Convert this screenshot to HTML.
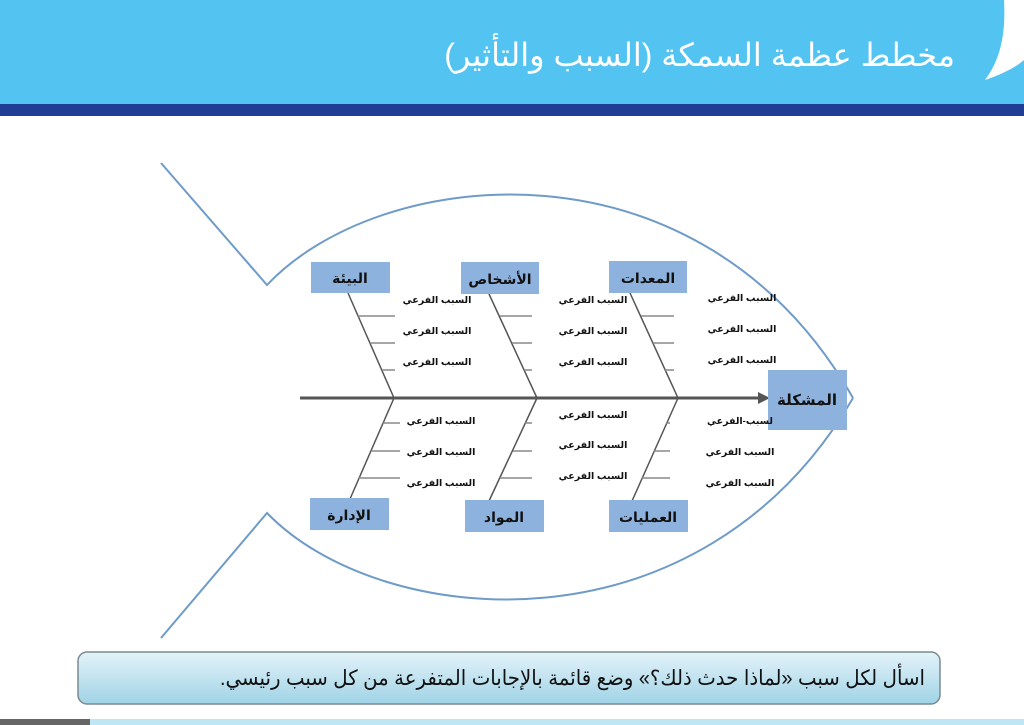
<!DOCTYPE html>
<html><head><meta charset="utf-8"><style>
html,body{margin:0;padding:0;width:1024px;height:725px;overflow:hidden;background:#fff}
svg{display:block}
</style></head><body>
<svg width="1024" height="725" viewBox="0 0 1024 725" xmlns="http://www.w3.org/2000/svg" font-family="'Liberation Sans','DejaVu Sans',sans-serif">
<defs>
<linearGradient id="cap" x1="0" y1="0" x2="0" y2="1">
<stop offset="0" stop-color="#e4f3f9"/><stop offset="1" stop-color="#9fd3e6"/>
</linearGradient>
</defs>
<rect x="0" y="0" width="1024" height="104" fill="#53c4f2"/>
<rect x="0" y="104" width="1024" height="12" fill="#1f3d94"/>
<path d="M1024,0 L1004,0 C1006,35 1000,60 985,80 C1000,75 1015,68 1024,60 Z" fill="#fff"/>
<text x="955" y="66" font-size="32" fill="#fff" text-anchor="end">مخطط عظمة السمكة (السبب والتأثير)</text>

<g fill="none" stroke="#6f9bc8" stroke-width="2">
<path d="M161,163 L267,285 C380,165 700,130 853,398"/>
<path d="M161,638 L267,513 C380,630 700,660 853,398"/>
</g>

<line x1="300" y1="398" x2="760" y2="398" stroke="#555" stroke-width="3"/>
<polygon points="758,392 770,398 758,404" fill="#555"/>

<g stroke="#555" stroke-width="1.5">
<line x1="348" y1="293" x2="394" y2="398"/>
<line x1="489" y1="294" x2="537" y2="398"/>
<line x1="630" y1="293" x2="678" y2="398"/>
<line x1="394" y1="398" x2="350" y2="499"/>
<line x1="537" y1="398" x2="489" y2="501"/>
<line x1="678" y1="398" x2="632" y2="501"/>
</g>
<g stroke="#888" stroke-width="1.5">
<line x1="358" y1="316" x2="395" y2="316"/><line x1="370" y1="343" x2="395" y2="343"/><line x1="382" y1="370" x2="395" y2="370"/>
<line x1="500" y1="316" x2="532" y2="316"/><line x1="512" y1="343" x2="532" y2="343"/><line x1="524" y1="370" x2="532" y2="370"/>
<line x1="641" y1="316" x2="674" y2="316"/><line x1="653" y1="343" x2="674" y2="343"/><line x1="665" y1="370" x2="674" y2="370"/>
<line x1="383" y1="423" x2="400" y2="423"/><line x1="371" y1="451" x2="400" y2="451"/><line x1="359" y1="478" x2="400" y2="478"/>
<line x1="525" y1="423" x2="532" y2="423"/><line x1="513" y1="451" x2="532" y2="451"/><line x1="500" y1="478" x2="532" y2="478"/>
<line x1="666" y1="423" x2="670" y2="423"/><line x1="654" y1="451" x2="670" y2="451"/><line x1="642" y1="478" x2="670" y2="478"/>
</g>

<g fill="#8eb2de">
<rect x="311" y="262" width="79" height="31"/>
<rect x="461" y="262" width="78" height="32"/>
<rect x="609" y="261" width="78" height="32"/>
<rect x="768" y="370" width="79" height="60"/>
<rect x="310" y="498" width="79" height="32"/>
<rect x="465" y="500" width="79" height="32"/>
<rect x="609" y="500" width="79" height="32"/>
</g>
<g font-weight="bold" font-size="14" fill="#111" text-anchor="middle">
<text x="350" y="283">البيئة</text>
<text x="500" y="284">الأشخاص</text>
<text x="648" y="283">المعدات</text>
<text x="807" y="405" font-size="15">المشكلة</text>
<text x="349" y="520">الإدارة</text>
<text x="504" y="522">المواد</text>
<text x="648" y="522">العمليات</text>
</g>
<g font-weight="bold" font-size="9.5" fill="#111" text-anchor="middle">
<text x="437" y="303">السبب الفرعي</text><text x="437" y="334">السبب الفرعي</text><text x="437" y="365">السبب الفرعي</text>
<text x="593" y="303">السبب الفرعي</text><text x="593" y="334">السبب الفرعي</text><text x="593" y="365">السبب الفرعي</text>
<text x="742" y="301">السبب الفرعي</text><text x="742" y="332">السبب الفرعي</text><text x="742" y="363">السبب الفرعي</text>
<text x="441" y="424">السبب الفرعي</text><text x="441" y="455">السبب الفرعي</text><text x="441" y="486">السبب الفرعي</text>
<text x="593" y="418">السبب الفرعي</text><text x="593" y="448">السبب الفرعي</text><text x="593" y="479">السبب الفرعي</text>
<text x="740" y="424">لسبب-الفرعي</text><text x="740" y="455">السبب الفرعي</text><text x="740" y="486">السبب الفرعي</text>
</g>

<rect x="78" y="652" width="862" height="52" rx="9" fill="url(#cap)" stroke="#7a8a92" stroke-width="1.5"/>
<text x="925" y="685" font-size="21" fill="#111" text-anchor="end" textLength="705" lengthAdjust="spacingAndGlyphs">&#x200F;اسأل لكل سبب «لماذا حدث ذلك؟» وضع قائمة بالإجابات المتفرعة من كل سبب رئيسي.&#x200F;</text>

<rect x="0" y="719" width="90" height="6" fill="#666"/>
<rect x="90" y="719" width="934" height="6" fill="#bfe6f5"/>
</svg>
</body></html>
